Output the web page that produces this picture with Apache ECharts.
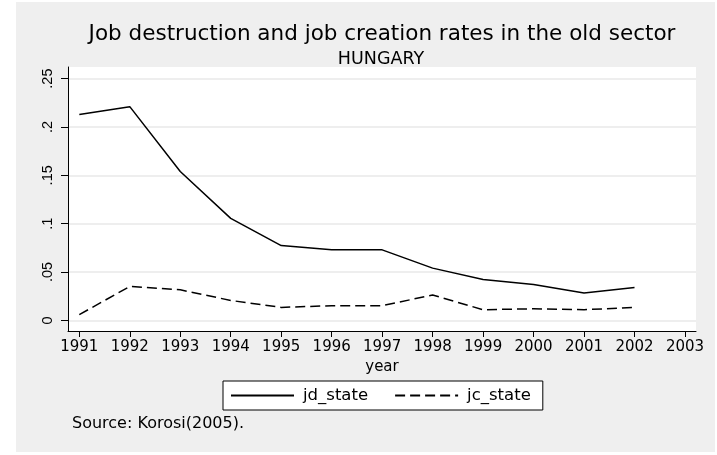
<!DOCTYPE html>
<html>
<head>
<meta charset="utf-8">
<script src="https://cdn.jsdelivr.net/npm/echarts@6/dist/echarts.min.js"></script>
<style>
html,body{margin:0;padding:0;background:#ffffff;}
#chart{width:717px;height:455px;}
</style>
</head>
<body>
<div id="chart"></div>
<script>
// ---- data ----
const years = [1991,1992,1993,1994,1995,1996,1997,1998,1999,2000,2001,2002];
const jdState = [0.213,0.221,0.154,0.1055,0.0773,0.0729,0.0729,0.054,0.0423,0.0371,0.0282,0.034];
const jcState = [0.0059,0.0351,0.0316,0.0206,0.0134,0.0152,0.0152,0.0262,0.011,0.012,0.011,0.0134];
const xTicks = [1991,1992,1993,1994,1995,1996,1997,1998,1999,2000,2001,2002,2003];
const yTicks = [0,0.05,0.1,0.15,0.2,0.25];
const yTickLabels = ['0','.05','.1','.15','.2','.25'];
const titleText = 'Job destruction and job creation rates in the old sector';
const subtitleText = 'HUNGARY';
const sourceText = 'Source: Korosi(2005).';

const chart = echarts.init(document.getElementById('chart'), null, {renderer:'canvas'});
const pair = (xs, ys) => xs.map((x,i)=>[x, ys[i]]);
const hFont = 'DejaVu Sans';

chart.setOption({
  backgroundColor: '#ffffff',
  animation: false,
  graphic: [
    {type:'rect', z:-10, silent:true, shape:{x:16,y:2,width:699,height:450}, style:{fill:'#efefef'}},
    {type:'rect', z:-9, silent:true, shape:{x:68,y:67,width:628,height:264}, style:{fill:'#ffffff'}},
    {type:'text', left:72, top:416, style:{text:sourceText, fill:'#000', font:'16px "DejaVu Sans"'}}
  ],
  title: [
    {text: titleText, left: 377, textAlign:'center', top: 18,
     textStyle:{fontFamily:hFont, fontSize:21.5, fontWeight:'normal', color:'#000'}},
    {text: subtitleText, left: 376, textAlign:'center', top: 45,
     textStyle:{fontFamily:hFont, fontSize:17.5, fontWeight:'normal', color:'#000'}}
  ],
  grid: {left:68, right:21, top:67, bottom:124, containLabel:false},
  xAxis: {
    type:'value', min:1990.776, max:2003.218,
    name:'year', nameLocation:'middle', nameGap:23,
    nameTextStyle:{fontFamily:hFont, fontSize:15, color:'#000'},
    axisLine:{show:true, onZero:false, lineStyle:{color:'#000', width:1}},
    axisTick:{show:true, length:6, customValues:xTicks, lineStyle:{color:'#000'}},
    axisLabel:{customValues:xTicks, margin:9, color:'#000', fontFamily:hFont, fontSize:15,
               formatter: v => String(Math.round(v))},
    splitLine:{show:false}
  },
  yAxis: {
    type:'value', min:-0.011, max:0.262,
    axisLine:{show:true, onZero:false, lineStyle:{color:'#000', width:1}},
    axisTick:{show:true, length:7, customValues:yTicks, lineStyle:{color:'#000'}},
    axisLabel:{customValues:yTicks, rotate:90, margin:13, color:'#000',
               fontFamily:'Liberation Sans', fontSize:14.5,
               formatter: v => { const i = yTicks.findIndex(t=>Math.abs(t-v)<1e-9); return i>=0? yTickLabels[i] : ''; }},
    splitLine:{show:true, lineStyle:{color:'#e8e8e8', width:1.5}}
  },
  legend: {
    left:223, top:381, orient:'horizontal',
    backgroundColor:'#ffffff', borderColor:'#000', borderWidth:1,
    padding:[6,12,6,7], itemWidth:63, itemHeight:14, itemGap:26,
    itemStyle:{opacity:0},
    textStyle:{fontFamily:hFont, fontSize:16.5, color:'#000', padding:[0,0,0,4], lineHeight:17},
    data:['jd_state','jc_state']
  },
  series: [
    {name:'jd_state', type:'line', data:pair(years, jdState), symbol:'none',
     lineStyle:{color:'#000', width:1.5, type:'solid'}, itemStyle:{color:'#000'}},
    {name:'jc_state', type:'line', data:pair(years, jcState), symbol:'none',
     lineStyle:{color:'#000', width:1.5, type:[10,5]}, itemStyle:{color:'#000'}}
  ]
});
</script>
</body>
</html>
